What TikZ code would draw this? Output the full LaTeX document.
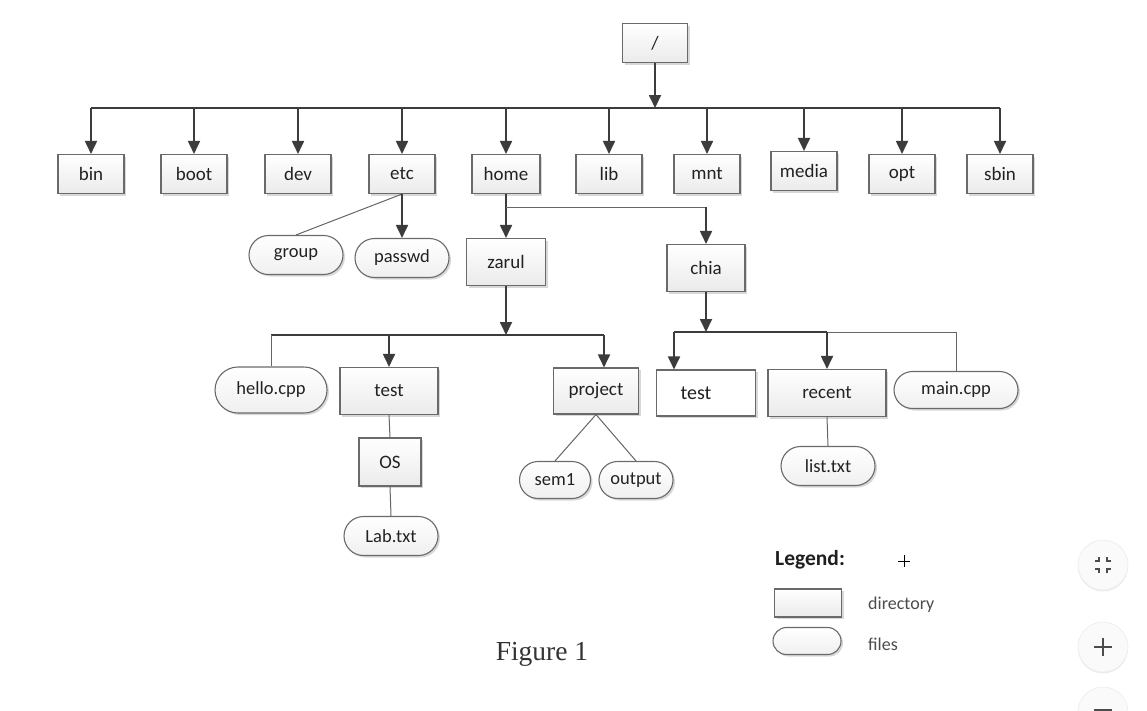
\documentclass[tikz,border=0pt]{standalone}
\usepackage{fontspec}
\setmainfont{Carlito}
\newfontfamily\figfont{Liberation Serif}
\usetikzlibrary{arrows.meta,shapes.misc,shadows}
\definecolor{linec}{HTML}{3C3C3C}
\definecolor{thinc}{HTML}{666666}
\definecolor{boxc}{HTML}{6A6A6A}
\definecolor{txtc}{HTML}{222222}
\tikzset{
  dirbox/.style={rectangle, draw=boxc, line width=1.1pt, top color=white, bottom color=gray!16,
    drop shadow={shadow xshift=2pt, shadow yshift=-2pt, opacity=0.3},
    minimum width=#1, minimum height=39pt, inner sep=0pt, text=txtc,
    font=\fontsize{19}{21}\selectfont},
  dirbox/.default=66pt,
  filebox/.style={rounded rectangle, draw=boxc, line width=1.1pt, top color=white, bottom color=gray!12,
    drop shadow={shadow xshift=2pt, shadow yshift=-2pt, opacity=0.3},
    minimum width=#1, minimum height=39pt, inner sep=0pt, text=txtc,
    font=\fontsize{18.5}{21}\selectfont},
  filebox/.default=94pt,
  arr/.style={draw=linec, line width=1.8pt, -{Triangle[length=13pt,width=12pt]}},
  busline/.style={draw=linec, line width=1.8pt},
  thinline/.style={draw=thinc, line width=1pt},
  btn/.style={circle, minimum size=50pt, fill=gray!4, draw=gray!15, line width=0.6pt,
    drop shadow={shadow xshift=0pt, shadow yshift=-1.5pt, opacity=0.15}, inner sep=0pt}
}
\begin{document}
\begin{tikzpicture}[x=1pt,y=-1pt]
\useasboundingbox[fill=white] (0,0) rectangle (1147,710);

% root
\node[dirbox=65pt] (root) at (655,43) {/};
\coordinate (rj) at (655,108);

% top level
\node[dirbox] (bin)   at (91,174)  {bin};
\node[dirbox] (boot)  at (194,174) {boot};
\node[dirbox] (dev)   at (298,174) {dev};
\node[dirbox] (etc)   at (402,174) {etc};
\node[dirbox=68pt] (home)  at (506,174) {home};
\node[dirbox] (lib)   at (609,174) {lib};
\node[dirbox] (mnt)   at (707,174) {mnt};
\node[dirbox] (media) at (804,171) {media};
\node[dirbox] (opt)   at (902,174) {opt};
\node[dirbox] (sbin)  at (1000,174) {sbin};

\draw[arr] (root.south) -- (rj);
\draw[busline] (bin.north |- rj) -- (sbin.north |- rj);
\foreach \n in {bin,boot,dev,etc,home,lib,mnt,media,opt,sbin}
  \draw[arr] (\n.north |- rj) -- (\n.north);

% etc children
\node[filebox] (group)  at (296,255) {group};
\node[filebox] (passwd) at (402,258) {passwd};
\draw[thinline] (etc.south) -- (group.north);
\draw[arr] (etc.south) -- (passwd.north);

% home children
\node[dirbox=79pt,minimum height=47pt] (zarul) at (506,262) {zarul};
\node[dirbox=78pt,minimum height=47pt] (chia)  at (706,268) {chia};
\coordinate (hj) at (506,207);
\draw[arr] (home.south) -- (zarul.north);
\draw[thinline] (hj) -- (chia.north |- hj);
\draw[arr] (chia.north |- hj) -- (chia.north);

% zarul children
\coordinate (zj) at (506,335);
\coordinate (pj) at (604,335);
\node[filebox=112pt,minimum height=46pt] (hello) at (271,390) {hello.cpp};
\node[dirbox=98pt,minimum height=47pt] (test1) at (389,391) {test};
\node[dirbox=85pt,minimum height=46pt] (project) at (596,391) {project};
\draw[arr] (zarul.south) -- (zj);
\draw[busline] (hello.north |- zj) -- (pj);
\draw[thinline] (hello.north |- zj) -- (hello.north);
\draw[arr] (test1.north |- zj) -- (test1.north);
\draw[arr] (pj) -- (pj |- project.north);

\node[dirbox=62pt,minimum height=48pt] (os) at (390,462) {OS};
\node[filebox=94pt] (lab) at (391,536) {Lab.txt};
\draw[thinline] (test1.south) -- (os.north);
\draw[thinline] (os.south) -- (lab.north);

\node[filebox=71pt,minimum height=37pt] (sem1) at (555,480) {sem1};
\node[filebox=74pt,minimum height=37pt] (output) at (636,480) {output};
\draw[thinline] (project.south) -- (sem1.north);
\draw[thinline] (project.south) -- (output.north);

% chia children
\coordinate (cj) at (706,332);
\node[rectangle, draw=boxc, line width=1.1pt, fill=white, drop shadow={shadow xshift=2pt, shadow yshift=-2pt, opacity=0.3},
  minimum width=99pt, minimum height=46pt, inner sep=0pt, text=txtc, font=\fontsize{20}{22}\selectfont] (test2) at (706,393) {\hspace*{-20pt}test};
\node[dirbox=118pt,minimum height=47pt] (recent) at (827,393) {recent};
\node[filebox=124pt,minimum height=37pt] (maincpp) at (956,390) {main.cpp};
\draw[arr] (chia.south) -- (cj);
\coordinate (tj) at (674,332);
\draw[busline] (tj) -- (recent.north |- cj);
\draw[thinline] (recent.north |- cj) -- (maincpp.north |- cj) -- (maincpp.north);
\draw[arr] (tj) -- (tj |- test2.north);
\draw[arr] (recent.north |- cj) -- (recent.north);

\node[filebox=94pt] (list) at (828,466) {list.txt};
\draw[thinline] (recent.south) -- (list.north);

% legend
\node[anchor=west, inner sep=0pt, text=black!88, font=\bfseries\fontsize{21.5}{23}\selectfont] (leg) at (775,560) {Legend:};
\node[dirbox=67pt, minimum height=28pt] (ldir) at (808,603) {};
\node[anchor=west, inner sep=0pt, text=black!70, font=\fontsize{18}{20}\selectfont] (ldirt) at (868,605) {directory};
\node[filebox=68pt, minimum height=27pt] (lfile) at (807,641) {};
\node[anchor=west, inner sep=0pt, text=black!70, font=\fontsize{18}{20}\selectfont] (lfilet) at (868,644) {files};
\coordinate (cursor) at (904,561);
\draw[black, line width=0.8pt] (898,561) -- (910,561) (904,555) -- (904,567);

% caption
\node[text=black!80, font=\figfont\fontsize{27.5}{30}\selectfont] (fig) at (542,654) {Figure 1};

% viewer buttons
\node[btn] (b1) at (1103,565) {};
\draw[black!70, line width=1.3pt]
  (1099,557) -- (1099,561) -- (1095,561)
  (1107,557) -- (1107,561) -- (1111,561)
  (1099,573) -- (1099,569) -- (1095,569)
  (1107,573) -- (1107,569) -- (1111,569);
\node[btn] (b2) at (1103,647) {};
\draw[black!70, line width=1.4pt] (1094,647) -- (1112,647) (1103,638) -- (1103,656);
\node[btn] (b3) at (1103,712) {};
\draw[black!70, line width=1.4pt] (1094,710) -- (1112,710);
\end{tikzpicture}
\end{document}
